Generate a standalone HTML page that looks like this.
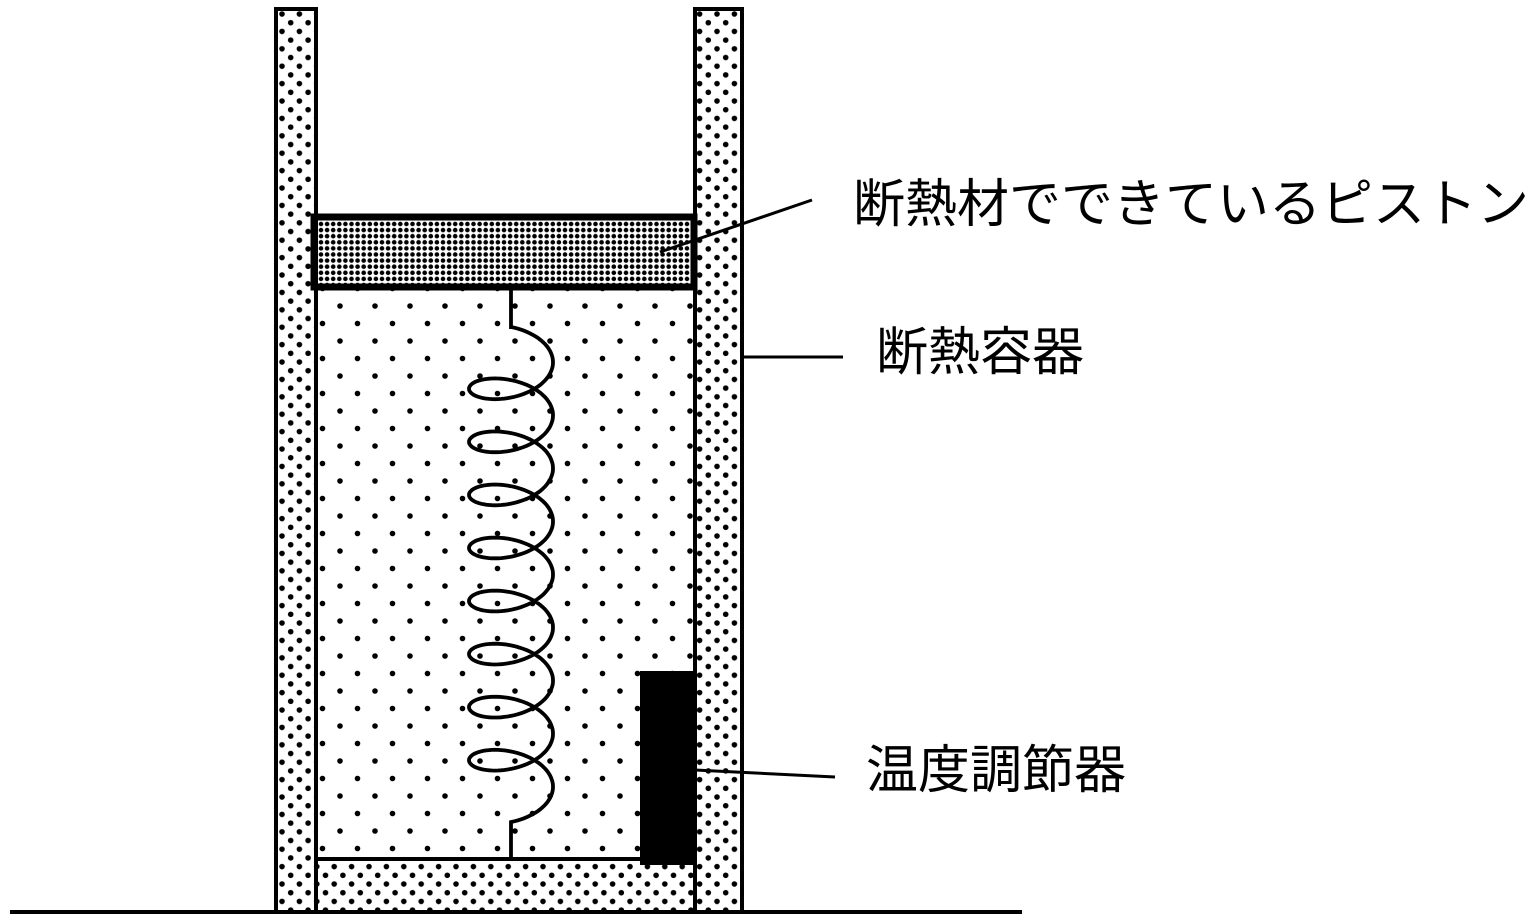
<!DOCTYPE html>
<html><head><meta charset="utf-8"><style>
html,body{margin:0;padding:0;background:#fff;width:1536px;height:921px;overflow:hidden}
svg{display:block}
text{font-family:"Liberation Sans","Noto Sans CJK JP",sans-serif;font-size:52px;fill:#000}
</style></head><body>
<svg width="1536" height="921" viewBox="0 0 1536 921" xmlns="http://www.w3.org/2000/svg">
<defs>
<pattern id="wall" width="17.4" height="17.4" patternUnits="userSpaceOnUse" x="278" y="10">
<circle cx="4" cy="4" r="2.8" fill="#000"/><circle cx="12.7" cy="12.7" r="2.8" fill="#000"/></pattern>
<pattern id="gas" width="35" height="35" patternUnits="userSpaceOnUse" x="322" y="300">
<circle cx="18" cy="6" r="2.8" fill="#000"/><circle cx="0.5" cy="23.5" r="2.8" fill="#000"/><circle cx="35.5" cy="23.5" r="2.8" fill="#000"/></pattern>
<pattern id="pist" width="6.1" height="6.1" patternUnits="userSpaceOnUse" x="318" y="221">
<circle cx="3" cy="3" r="2.3" fill="#000"/></pattern>
</defs>
<rect x="276" y="9" width="40" height="903" fill="url(#wall)" stroke="#000" stroke-width="4"/>
<rect x="695" y="9" width="47" height="903" fill="url(#wall)" stroke="#000" stroke-width="4"/>
<rect x="316" y="859" width="379" height="53" fill="url(#wall)"/>
<line x1="276" y1="912" x2="742" y2="912" stroke="#000" stroke-width="4"/>
<rect x="316" y="288" width="379" height="571" fill="url(#gas)" stroke="#000" stroke-width="4"/>
<rect x="314" y="217" width="380" height="70" fill="url(#pist)" stroke="#000" stroke-width="7"/>
<rect x="640" y="671" width="55" height="194" fill="#000"/>
<path id="spring" d="" fill="none" stroke="#000" stroke-width="3.8"/>
<line x1="10" y1="912" x2="1022" y2="912" stroke="#000" stroke-width="4"/>
<line x1="660" y1="252" x2="812" y2="200" stroke="#000" stroke-width="3"/>
<line x1="742" y1="357" x2="843" y2="357" stroke="#000" stroke-width="3"/>
<line x1="695" y1="770" x2="835" y2="777" stroke="#000" stroke-width="3"/>
<text x="853" y="222">断熱材でできているピストン</text>
<text x="876" y="370">断熱容器</text>
<text x="866" y="788">温度調節器</text>
</svg>
<script>
var p=(820-20-349)/(17*Math.PI),d="M511,288 L511,329";
for(var i=0;i<=680;i++){var t=i/680*17*Math.PI;var x=511+42*Math.sin(t),y=349+p*t-22*Math.cos(t);d+=" L"+x.toFixed(1)+","+y.toFixed(1);}
d+=" L511,859";
document.getElementById("spring").setAttribute("d",d);
</script>
</body></html>
